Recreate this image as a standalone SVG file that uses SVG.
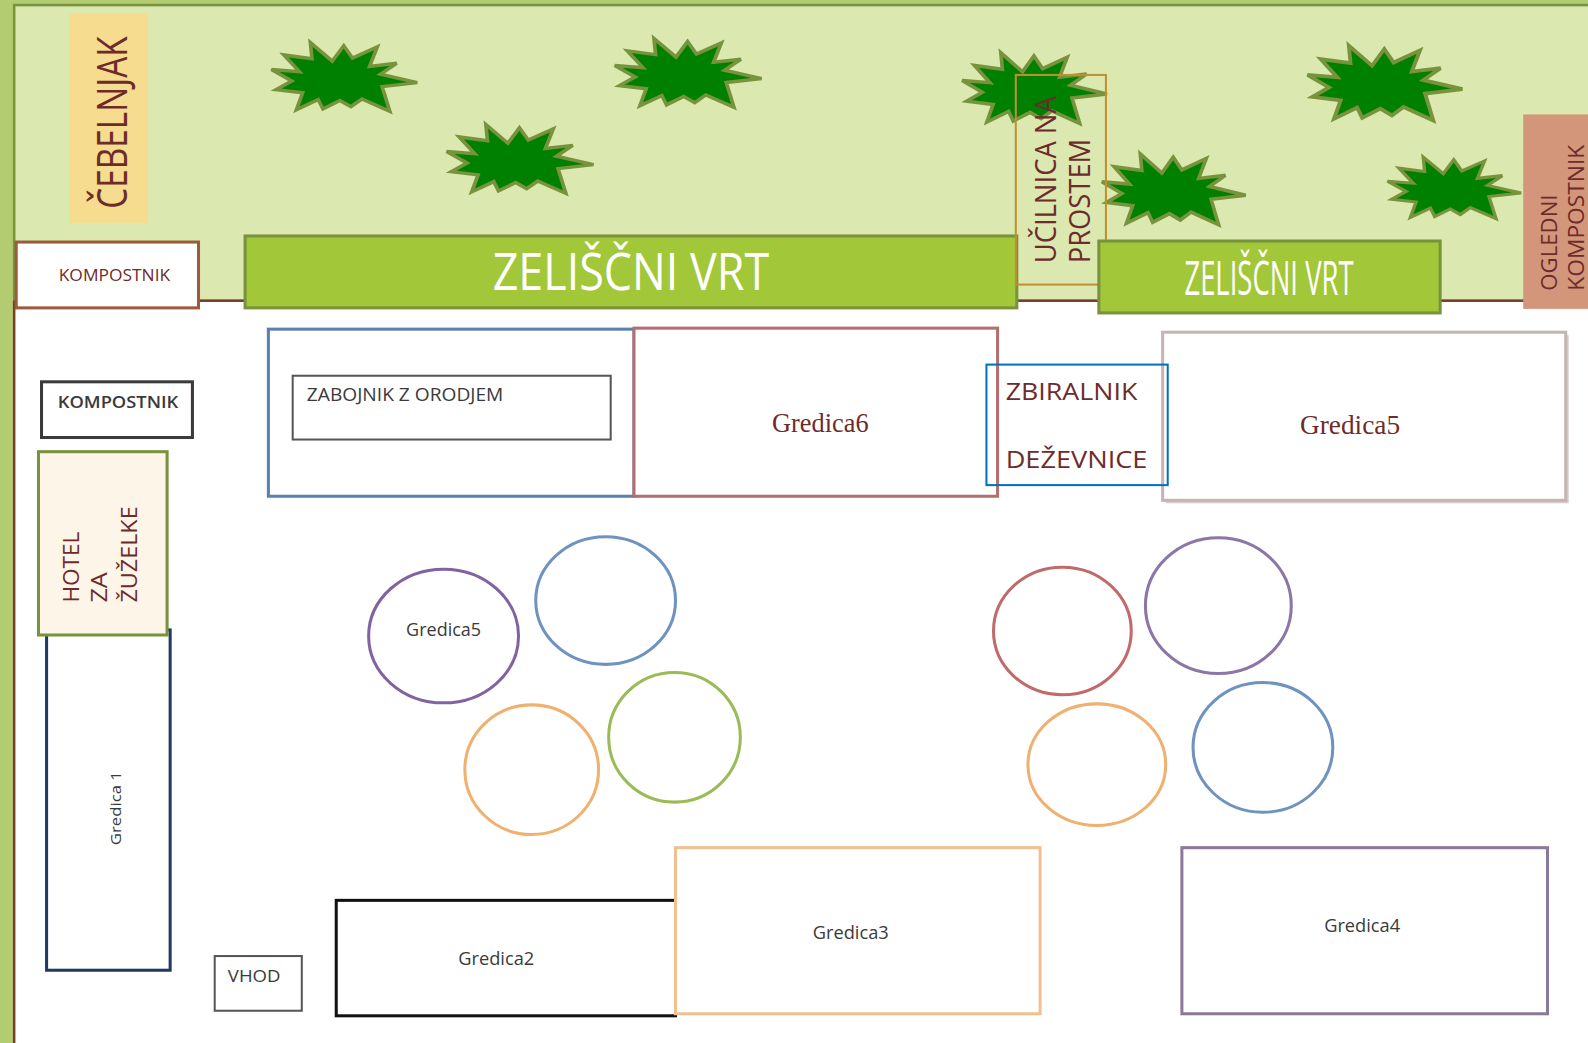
<svg xmlns="http://www.w3.org/2000/svg" xmlns:xlink="http://www.w3.org/1999/xlink" width="1588" height="1043" viewBox="0 0 1588 1043">
<style>
.lbl{font-family:"Open Sans","Noto Sans","Liberation Sans",sans-serif;fill:#6e2b2b}
.gray{font-family:"Open Sans","Noto Sans","Liberation Sans",sans-serif;fill:#3a3a3a}
.serif{font-family:"Liberation Serif","DejaVu Serif",serif;fill:#6e2b2b}
.white{font-family:"Open Sans","Noto Sans","Liberation Sans",sans-serif;fill:#ffffff}
.bed{fill:#ffffff;stroke-width:3}
.ring{fill:none;stroke-width:3}
.greenbar{fill:#a2c739;stroke:#77933c;stroke-width:3}
.star{fill:#008000;stroke:#77933c;stroke-width:2.5;stroke-linejoin:miter}
</style>
<defs>
<path id="star" d="M0,19.6 L19.2,21.2 L8.5,9 L27.8,11.7 L26.7,0 L41.7,13.5 L49.6,2.3 L55.6,11.3 L72.6,3.2 L67.3,17.3 L85.9,15.1 L74.8,23 L100,29.1 L75.9,32 L81.2,50 L62,41 L54.5,46.6 L47,42.1 L35.3,48.2 L32.1,41.4 L17.1,48.9 L21.4,36.5 L3.2,34.2 L13.9,27.9 Z"/>
</defs>

<g id="plan" transform="scale(1.01276)">
<!-- background -->
<rect x="0" y="0" width="1600" height="1050" fill="#b3cc72"/>
<rect x="14" y="5" width="1600" height="292" fill="#dbe8b0" stroke="#77933c" stroke-width="2.5"/>
<rect x="14" y="297" width="1600" height="760" fill="#ffffff"/>
<path d="M14,297 H1600 M14,297 V1050" fill="none" stroke="#7a3f2a" stroke-width="2.5"/>

<!-- trees -->
<g id="trees">
<use xlink:href="#star" href="#star" class="star" transform="translate(268,42) scale(1.44,1.36)"/>
<use xlink:href="#star" href="#star" class="star" transform="translate(441,123) scale(1.45,1.36)"/>
<use xlink:href="#star" href="#star" class="star" transform="translate(607,38) scale(1.45,1.36)"/>
<use xlink:href="#star" href="#star" class="star" transform="translate(950,52) scale(1.43,1.4)"/>
<use xlink:href="#star" href="#star" class="star" transform="translate(1088,152) scale(1.42,1.4)"/>
<use xlink:href="#star" href="#star" class="star" transform="translate(1291,45) scale(1.53,1.48)"/>
<use xlink:href="#star" href="#star" class="star" transform="translate(1370,155) scale(1.32,1.22)"/>
</g>

<g id="cebelnjak">
<rect x="69" y="13" width="77" height="207" fill="#f5dc8e"/>
<text class="lbl" font-size="41" transform="translate(125,206) rotate(-90)" textLength="170" lengthAdjust="spacingAndGlyphs">ČEBELNJAK</text>
</g>

<g id="kompostnik-top">
<rect x="16" y="239" width="180" height="65" fill="#ffffff" stroke="#9c5b3c" stroke-width="3"/>
<text class="lbl" font-size="16" x="113" y="277" text-anchor="middle" textLength="110" lengthAdjust="spacingAndGlyphs">KOMPOSTNIK</text>
</g>

<g id="zeliscni-vrt-1">
<rect class="greenbar" x="242" y="233" width="762" height="71"/>
<text class="white" font-size="50" x="623" y="286" text-anchor="middle" textLength="273" lengthAdjust="spacingAndGlyphs">ZELIŠČNI VRT</text>
</g>

<g id="ucilnica">
<rect x="1003" y="74" width="89" height="207" fill="none" stroke="#c09030" stroke-width="2"/>
<text class="lbl" font-size="28" transform="translate(1043,260) rotate(-90)" textLength="165" lengthAdjust="spacingAndGlyphs">UČILNICA NA</text>
<text class="lbl" font-size="28" transform="translate(1076,260) rotate(-90)" textLength="123" lengthAdjust="spacingAndGlyphs">PROSTEM</text>
</g>

<g id="zeliscni-vrt-2">
<rect class="greenbar" x="1085" y="238" width="337" height="71"/>
<text class="white" font-size="46" x="1253" y="291" text-anchor="middle" textLength="167" lengthAdjust="spacingAndGlyphs">ZELIŠČNI VRT</text>
</g>

<g id="ogledni-kompostnik">
<rect x="1504" y="113" width="90" height="192" fill="#d4967a"/>
<text class="lbl" font-size="21" transform="translate(1537,287) rotate(-90)" textLength="95" lengthAdjust="spacingAndGlyphs">OGLEDNI</text>
<text class="lbl" font-size="21" transform="translate(1564,287) rotate(-90)" textLength="144" lengthAdjust="spacingAndGlyphs">KOMPOSTNIK</text>
</g>

<g id="zabojnik">
<rect class="bed" x="265" y="325" width="361" height="165" stroke="#5b7fae" stroke-width="3.5"/>
<rect x="289" y="371" width="314" height="63" fill="#ffffff" stroke="#555555" stroke-width="2"/>
<text class="gray" font-size="17" x="303" y="396" textLength="194" lengthAdjust="spacingAndGlyphs">ZABOJNIK Z ORODJEM</text>
</g>

<g id="gredica6">
<rect class="bed" x="626" y="324" width="359" height="166" stroke="#b36f6f"/>
<text class="serif" font-size="26" x="810" y="427" text-anchor="middle">Gredica6</text>
</g>

<g id="gredica5-top">
<rect x="1151" y="331" width="398" height="166" fill="#d8d0d0"/>
<rect class="bed" x="1148" y="328" width="398" height="166" stroke="#c4b4b4"/>
<text class="serif" font-size="27" x="1333" y="429" text-anchor="middle">Gredica5</text>
</g>

<g id="zbiralnik">
<rect x="974" y="360" width="179" height="119" fill="none" stroke="#0070c0" stroke-width="2"/>
<text class="lbl" font-size="24" x="993" y="395" textLength="130" lengthAdjust="spacingAndGlyphs">ZBIRALNIK</text>
<text class="lbl" font-size="24" x="993" y="462" textLength="140" lengthAdjust="spacingAndGlyphs">DEŽEVNICE</text>
</g>

<g id="kompostnik-2">
<rect x="41" y="377" width="149" height="55" fill="#ffffff" stroke="#3a3a3a" stroke-width="3"/>
<text class="gray" font-size="16" font-weight="600" x="57" y="403" textLength="119" lengthAdjust="spacingAndGlyphs">KOMPOSTNIK</text>
</g>

<g id="gredica1">
<rect class="bed" x="46" y="622" width="122" height="336" stroke="#1f3864"/>
<text class="gray" font-size="15" transform="translate(119,798) rotate(-90)" text-anchor="middle" textLength="73" lengthAdjust="spacingAndGlyphs">Gredica 1</text>
</g>

<g id="hotel">
<rect x="38" y="446" width="127" height="181" fill="#fdf5e8" stroke="#77933c" stroke-width="3"/>
<text class="lbl" font-size="21" transform="translate(78,595) rotate(-90)" textLength="70" lengthAdjust="spacingAndGlyphs">HOTEL</text>
<text class="lbl" font-size="21" transform="translate(106,595) rotate(-90)" textLength="30" lengthAdjust="spacingAndGlyphs">ZA</text>
<text class="lbl" font-size="21" transform="translate(135,595) rotate(-90)" textLength="95" lengthAdjust="spacingAndGlyphs">ŽUŽELKE</text>
</g>

<g id="circles-left">
<ellipse class="ring" cx="438" cy="628" rx="74" ry="66" stroke="#8064a2"/>
<text class="gray" font-size="17" x="438" y="628" text-anchor="middle" textLength="74" lengthAdjust="spacingAndGlyphs">Gredica5</text>
<ellipse class="ring" cx="598" cy="593" rx="69" ry="63" stroke="#6f93c0"/>
<ellipse class="ring" cx="525" cy="760" rx="66" ry="64" stroke="#f0b070"/>
<ellipse class="ring" cx="666" cy="728" rx="65" ry="64" stroke="#9bbb59"/>
</g>

<g id="circles-right">
<ellipse class="ring" cx="1049" cy="623" rx="68" ry="63" stroke="#c06a6a"/>
<ellipse class="ring" cx="1203" cy="598" rx="72" ry="67" stroke="#8a76a8"/>
<ellipse class="ring" cx="1083" cy="755" rx="68" ry="60" stroke="#f0b070"/>
<ellipse class="ring" cx="1247" cy="738" rx="69" ry="64" stroke="#6f93c0"/>
</g>

<g id="vhod">
<rect x="212" y="944" width="86" height="54" fill="#ffffff" stroke="#555555" stroke-width="2"/>
<text class="gray" font-size="16" x="225" y="970" textLength="52" lengthAdjust="spacingAndGlyphs">VHOD</text>
</g>

<g id="gredica2">
<rect class="bed" x="332" y="889" width="335" height="114" stroke="#111111"/>
<text class="gray" font-size="17" x="490" y="953" text-anchor="middle" textLength="75" lengthAdjust="spacingAndGlyphs">Gredica2</text>
</g>

<g id="gredica3">
<rect class="bed" x="667" y="837" width="360" height="164" stroke="#f0c090"/>
<text class="gray" font-size="17" x="840" y="927" text-anchor="middle" textLength="75" lengthAdjust="spacingAndGlyphs">Gredica3</text>
</g>

<g id="gredica4">
<rect class="bed" x="1167" y="837" width="361" height="164" stroke="#8a7a9a"/>
<text class="gray" font-size="17" x="1345" y="920" text-anchor="middle" textLength="75" lengthAdjust="spacingAndGlyphs">Gredica4</text>
</g>

<g id="connectors"/>
</g>
</svg>
